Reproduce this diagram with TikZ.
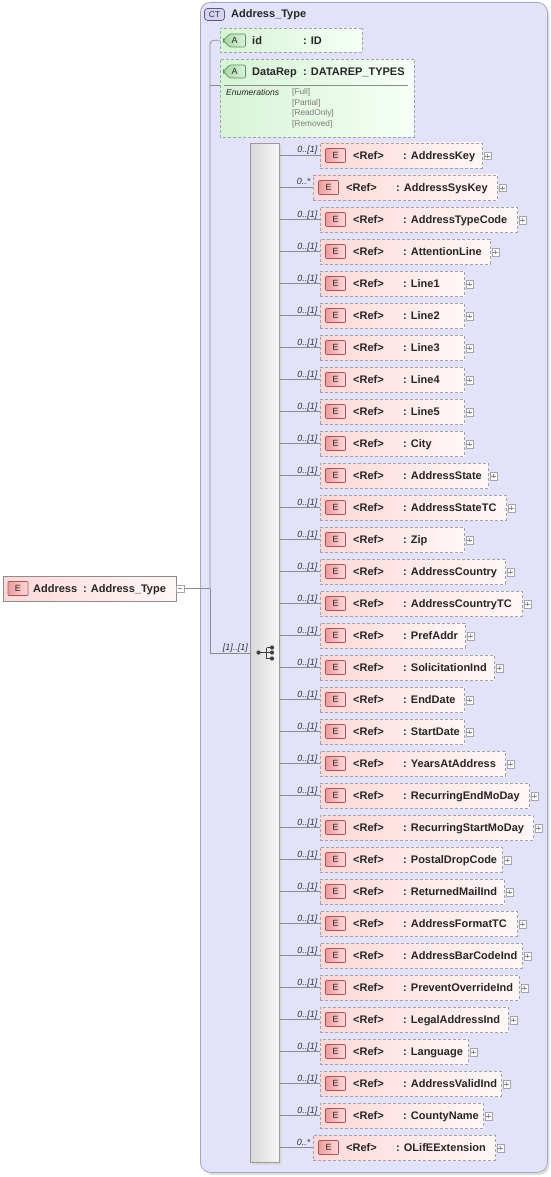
\documentclass[tikz,border=0pt]{standalone}
\usepackage{fontspec}
\setmainfont{Liberation Sans}
\usetikzlibrary{shapes.misc,calc}
\definecolor{ctbg}{HTML}{E2E2FA}
\definecolor{ctborder}{HTML}{A8A8BC}
\definecolor{ctbadgefill}{HTML}{D4D4F2}
\definecolor{ctbadgeline}{HTML}{5A5A7A}
\definecolor{attrL}{HTML}{D6F4D6}
\definecolor{attrR}{HTML}{F6FFF6}
\definecolor{abL}{HTML}{A6D8A6}
\definecolor{abR}{HTML}{DDF3DD}
\definecolor{abline}{HTML}{5F8F5F}
\definecolor{elL}{HTML}{FDD8D8}
\definecolor{elR}{HTML}{FFF7F7}
\definecolor{ebL}{HTML}{EC9C9C}
\definecolor{ebR}{HTML}{FFD9D9}
\definecolor{ebline}{HTML}{A25858}
\definecolor{dashcol}{HTML}{A4A4A4}
\definecolor{conncol}{HTML}{8C8C8C}
\definecolor{barL}{HTML}{D8D8D8}
\definecolor{barR}{HTML}{F7F7F7}
\definecolor{enumcol}{HTML}{7A7A7A}
\newcommand\elrow[6]{%
  \node[elbox, minimum width={#4-#3}, anchor=west] (#1) at (#3,#2) {};
  \node[ebadge] (#1b) at (#3+15.5,#2) {E};
  \node[btxt, anchor=base west] (#1r) at (#3+33,#2+4) {<Ref>};
  \node[btxt, anchor=base west] (#1n) at (#3+83,#2+4) {: #5};
  \node[expander] (#1x) at (#4+5.5,#2+0.5) {};
  \node[multlbl, anchor=base east] (#1m) at (#3-2.5,#2-2.5) {#6};
  \draw[conn] (seq.east |- #1.west) -- (#1.west);
}
\begin{document}
\begin{tikzpicture}[x=1pt,y=-1pt,
  btxt/.style={font=\bfseries\fontsize{11}{12}\selectfont, inner sep=0pt, text=black!85},
  multlbl/.style={font=\itshape\fontsize{9}{10}\selectfont, inner sep=0pt, text=black!80},
  enumlbl/.style={font=\itshape\fontsize{8.6}{9}\selectfont, inner sep=0pt, text=black!85},
  enumval/.style={font=\fontsize{8.3}{9}\selectfont, inner sep=0pt, text=enumcol},
  conn/.style={draw=conncol, line width=0.7pt},
  ctbox/.style={rectangle, rounded corners=10pt, draw=ctborder, line width=0.8pt, fill=ctbg, inner sep=0pt},
  ctbadge/.style={rectangle, rounded corners=3pt, draw=ctbadgeline, fill=ctbadgefill, line width=0.7pt,
     minimum width=20pt, minimum height=12pt, inner sep=0pt, font=\fontsize{8.5}{9}\selectfont, text=black!80},
  attrbox/.style={chamfered rectangle, chamfered rectangle corners={north west,south west},
     chamfered rectangle xsep=8pt, chamfered rectangle ysep=8pt,
     draw=dashcol, dash pattern=on 3pt off 2pt, line width=0.8pt,
     left color=attrL, right color=attrR, inner sep=0pt},
  abadge/.style={chamfered rectangle, chamfered rectangle corners={north west,south west},
     chamfered rectangle xsep=4pt, chamfered rectangle ysep=6pt, rounded corners=1.5pt,
     draw=abline, line width=0.7pt, left color=abL, right color=abR,
     minimum width=22pt, minimum height=13pt, inner sep=0pt, font=\fontsize{9}{10}\selectfont, text=black!85},
  elbox/.style={rectangle, draw=dashcol, dash pattern=on 3pt off 2pt, line width=0.8pt,
     left color=elL, right color=elR, minimum height=25pt, inner sep=0pt},
  addrbox/.style={rectangle, draw=black!45, line width=0.7pt,
     left color=elL, right color=elR, minimum height=25pt, inner sep=0pt},
  ebadge/.style={rectangle, rounded corners=1pt, draw=ebline, line width=0.7pt, left color=ebL, right color=ebR,
     minimum width=20pt, minimum height=14pt, inner sep=0pt, font=\fontsize{9}{10}\selectfont, text=black!85},
  expander/.style={rectangle, draw=black!35, fill=white, line width=0.5pt, minimum size=7.5pt, inner sep=0pt,
     path picture={\draw[black!45, line width=0.5pt]
        ([xshift=1.6pt]path picture bounding box.west) -- ([xshift=-1.6pt]path picture bounding box.east)
        ([yshift=-1.6pt]path picture bounding box.north) -- ([yshift=1.6pt]path picture bounding box.south);}},
  collapser/.style={rectangle, draw=black!35, fill=white, line width=0.5pt, minimum size=7.5pt, inner sep=0pt,
     path picture={\draw[black!45, line width=0.5pt]
        ([xshift=1.6pt]path picture bounding box.west) -- ([xshift=-1.6pt]path picture bounding box.east);}},
  seqbar/.style={rectangle, draw=black!40, line width=0.7pt, left color=barL, right color=barR, inner sep=0pt},
  symcol/.style={black!75}
]
\useasboundingbox (0,0) rectangle (550,1177);

% complex type container
\fill[black!12] (203,5) [rounded corners=10pt] rectangle (549.5,1175);
\node[ctbox, minimum width=347pt, minimum height=1170pt, anchor=north west] (ct) at (200,2) {};
\node[ctbadge] (ctb) at (214.5,14.5) {CT};
\node[btxt, anchor=base west] (cttitle) at (231,18) {Address\_Type};

% attribute id
\node[attrbox, minimum width=142pt, minimum height=24pt, anchor=north west] (id) at (220,28) {};
\node[abadge] (idb) at (234.5,40.5) {A};
\node[btxt, anchor=base west] (idn) at (252,44.5) {id};
\node[btxt, anchor=base west] (idt) at (303,44.5) {: ID};

% attribute DataRep
\node[attrbox, minimum width=194pt, minimum height=78pt, anchor=north west] (dr) at (220,59) {};
\node[abadge] (drb) at (234.5,71.5) {A};
\node[btxt, anchor=base west] (drn) at (252,75.5) {DataRep};
\node[btxt, anchor=base west] (drt) at (303,75.5) {: DATAREP\_TYPES};
\draw[black!45, line width=0.6pt] (224,85) -- (408,85);
\node[enumlbl, anchor=base west] (enl) at (226,95.5) {Enumerations};
\node[enumval, anchor=base west] (ev1) at (292,95) {[Full]};
\node[enumval, anchor=base west] (ev2) at (292,105.5) {[Partial]};
\node[enumval, anchor=base west] (ev3) at (292,116) {[ReadOnly]};
\node[enumval, anchor=base west] (ev4) at (292,126.5) {[Removed]};

% sequence bar
\fill[black!15] (252,145) rectangle (281.5,1164.5);
\node[seqbar, minimum width=29pt, minimum height=1019pt, anchor=north west] (seq) at (250,143) {};

% root element
\node[addrbox, minimum width=173pt, anchor=west] (addr) at (3,588.5) {};
\node[ebadge] (addrb) at (18,588.5) {E};
\node[btxt, anchor=base west] (addrn) at (33,592.5) {Address};
\node[btxt, anchor=base west] (addrt) at (83,592.5) {: Address\_Type};
\node[collapser] (addrx) at (180,588.5) {};

% tree connectors
\coordinate (trunk) at (210,588.5);
\coordinate (drj) at (210,85);
\coordinate (seqj) at (210,653);
\draw[conn] (addrx.east) -- (trunk);
\draw[conn, rounded corners=4pt] (id.west) -| (trunk);
\draw[conn] (drj) -- (drj -| dr.west);
\draw[conn] (trunk) -- (seqj) -- (seqj -| seq.west);
\node[multlbl, anchor=base east] (seqm) at (248,650) {[1]..[1]};

% sequence symbol
\draw[symcol, line width=0.8pt] (258.5,652.5) -- (266.5,652.5)
  (266.5,647.5) -- (266.5,658.5)
  (266.5,647.5) -- (272,647.5) (266.5,652.5) -- (272,652.5) (266.5,658.5) -- (272,658.5);
\fill[symcol] (258.5,652.5) circle (2.1pt) (272,647.5) circle (2.1pt) (272,652.5) circle (2.1pt) (272,658.5) circle (2.1pt);

% child elements
\elrow{e1}{155.5}{320}{482}{AddressKey}{0..[1]}
\elrow{e2}{187.5}{313}{497}{AddressSysKey}{0..*}
\elrow{e3}{219.5}{320}{517}{AddressTypeCode}{0..[1]}
\elrow{e4}{251.5}{320}{490}{AttentionLine}{0..[1]}
\elrow{e5}{283.5}{320}{464}{Line1}{0..[1]}
\elrow{e6}{315.5}{320}{464}{Line2}{0..[1]}
\elrow{e7}{347.5}{320}{464}{Line3}{0..[1]}
\elrow{e8}{379.5}{320}{464}{Line4}{0..[1]}
\elrow{e9}{411.5}{320}{464}{Line5}{0..[1]}
\elrow{e10}{443.5}{320}{464}{City}{0..[1]}
\elrow{e11}{475.5}{320}{488}{AddressState}{0..[1]}
\elrow{e12}{507.5}{320}{506}{AddressStateTC}{0..[1]}
\elrow{e13}{539.5}{320}{464}{Zip}{0..[1]}
\elrow{e14}{571.5}{320}{505}{AddressCountry}{0..[1]}
\elrow{e15}{603.5}{320}{522}{AddressCountryTC}{0..[1]}
\elrow{e16}{635.5}{320}{465}{PrefAddr}{0..[1]}
\elrow{e17}{667.5}{320}{494}{SolicitationInd}{0..[1]}
\elrow{e18}{699.5}{320}{464}{EndDate}{0..[1]}
\elrow{e19}{731.5}{320}{464}{StartDate}{0..[1]}
\elrow{e20}{763.5}{320}{505}{YearsAtAddress}{0..[1]}
\elrow{e21}{795.5}{320}{529}{RecurringEndMoDay}{0..[1]}
\elrow{e22}{827.5}{320}{533}{RecurringStartMoDay}{0..[1]}
\elrow{e23}{859.5}{320}{502}{PostalDropCode}{0..[1]}
\elrow{e24}{891.5}{320}{504}{ReturnedMailInd}{0..[1]}
\elrow{e25}{923.5}{320}{517}{AddressFormatTC}{0..[1]}
\elrow{e26}{955.5}{320}{522}{AddressBarCodeInd}{0..[1]}
\elrow{e27}{987.5}{320}{519}{PreventOverrideInd}{0..[1]}
\elrow{e28}{1019.5}{320}{508}{LegalAddressInd}{0..[1]}
\elrow{e29}{1051.5}{320}{468}{Language}{0..[1]}
\elrow{e30}{1083.5}{320}{501}{AddressValidInd}{0..[1]}
\elrow{e31}{1115.5}{320}{483}{CountyName}{0..[1]}
\elrow{e32}{1147.5}{313}{495}{OLifEExtension}{0..*}
\end{tikzpicture}
\end{document}
